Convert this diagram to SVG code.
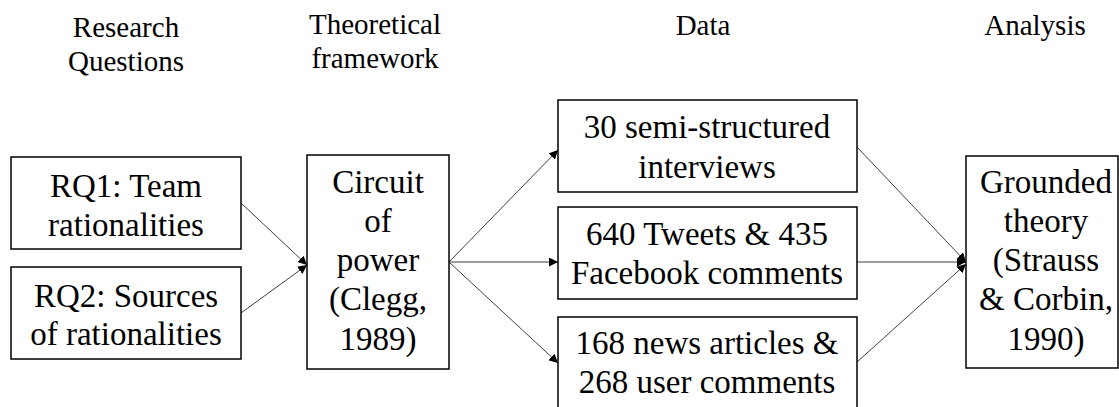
<svg xmlns="http://www.w3.org/2000/svg" width="1119" height="407" viewBox="0 0 1119 407">
<style>
.box{fill:#fff;stroke:#000;stroke-width:1.5}
.conn{stroke:#404040;stroke-width:1;fill:none;marker-end:url(#ah)}
</style>
<defs>
<marker id="ah" viewBox="0 0 10 10" refX="10" refY="5" markerWidth="9" markerHeight="9" markerUnits="userSpaceOnUse" orient="auto">
<path d="M0,0 L10,5 L0,10 z" fill="#000"/>
</marker>
</defs>
<g id="headers" font-family="Liberation Serif, Times New Roman, serif" font-size="29" text-anchor="middle" fill="#000">
<text x="126" y="37">Research</text>
<text x="126" y="71">Questions</text>
<text x="375" y="34">Theoretical</text>
<text x="375" y="68">framework</text>
<text x="703" y="35">Data</text>
<text x="1035" y="35">Analysis</text>
</g>
<g id="connectors">
<line class="conn" x1="241" y1="203" x2="307" y2="265"/>
<line class="conn" x1="241" y1="313" x2="307" y2="265"/>
<line class="conn" x1="449" y1="262" x2="558" y2="150"/>
<line class="conn" x1="449" y1="262" x2="558" y2="262"/>
<line class="conn" x1="449" y1="262" x2="558" y2="363"/>
<line class="conn" x1="857" y1="147" x2="966" y2="262"/>
<line class="conn" x1="857" y1="262" x2="966" y2="262"/>
<line class="conn" x1="857" y1="362" x2="966" y2="264"/>
</g>
<g id="rq1" font-family="Liberation Serif, Times New Roman, serif" font-size="33" text-anchor="middle" fill="#000">
<rect class="box" x="11" y="157" width="230" height="92"/>
<text x="126" y="197">RQ1: Team</text>
<text x="126" y="236">rationalities</text>
</g>
<g id="rq2" font-family="Liberation Serif, Times New Roman, serif" font-size="33" text-anchor="middle" fill="#000">
<rect class="box" x="11" y="267" width="230" height="92"/>
<text x="126" y="307">RQ2: Sources</text>
<text x="126" y="345">of rationalities</text>
</g>
<g id="circuit" font-family="Liberation Serif, Times New Roman, serif" font-size="33" text-anchor="middle" fill="#000">
<rect class="box" x="307" y="155" width="142" height="214"/>
<text x="378" y="193">Circuit</text>
<text x="378" y="232">of</text>
<text x="378" y="271">power</text>
<text x="378" y="310">(Clegg,</text>
<text x="378" y="350">1989)</text>
</g>
<g id="data1" font-family="Liberation Serif, Times New Roman, serif" font-size="33" text-anchor="middle" fill="#000">
<rect class="box" x="558" y="100" width="299" height="92"/>
<text x="707" y="138">30 semi-structured</text>
<text x="707" y="178">interviews</text>
</g>
<g id="data2" font-family="Liberation Serif, Times New Roman, serif" font-size="33" text-anchor="middle" fill="#000">
<rect class="box" x="558" y="207" width="299" height="92"/>
<text x="707" y="245">640 Tweets &amp; 435</text>
<text x="707" y="284">Facebook comments</text>
</g>
<g id="data3" font-family="Liberation Serif, Times New Roman, serif" font-size="33" text-anchor="middle" fill="#000">
<rect class="box" x="558" y="317" width="299" height="95"/>
<text x="707" y="354">168 news articles &amp;</text>
<text x="707" y="393">268 user comments</text>
</g>
<g id="grounded" font-family="Liberation Serif, Times New Roman, serif" font-size="33" text-anchor="middle" fill="#000">
<rect class="box" x="966" y="156" width="152" height="212"/>
<text x="1046" y="193">Grounded</text>
<text x="1046" y="232">theory</text>
<text x="1046" y="271">(Strauss</text>
<text x="1046" y="310">&amp; Corbin,</text>
<text x="1046" y="350">1990)</text>
</g>
</svg>
